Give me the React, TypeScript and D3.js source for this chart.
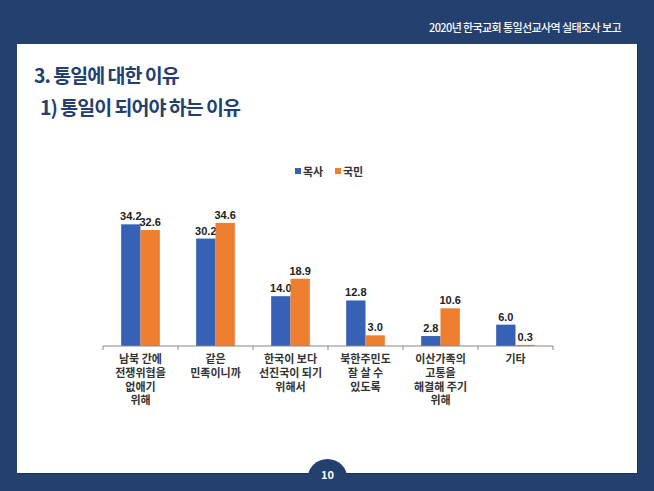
import React from "react";
import * as d3 from "d3";

const categories: string[][] = [
  ["남북 간에", "전쟁위협을", "없애기", "위해"],
  ["같은", "민족이니까"],
  ["한국이 보다", "선진국이 되기", "위해서"],
  ["북한주민도", "잘 살 수", "있도록"],
  ["이산가족의", "고통을", "해결해 주기", "위해"],
  ["기타"],
];
const seriesNames = ["목사", "국민"];
const pastorValues = [34.2, 30.2, 14.0, 12.8, 2.8, 6.0];
const publicValues = [32.6, 34.6, 18.9, 3.0, 10.6, 0.3];
const headerText = "2020년 한국교회 통일선교사역 실태조사 보고";
const titleText = "3. 통일에 대한 이유";
const subtitleText = "1) 통일이 되어야 하는 이유";
const pageNumber = "10";

const W = 654;
const H = 491;
const NAVY = "#23406f";
const BLUE = "#3761b4";
const ORANGE = "#ef7f30";
const KR = "'Noto Sans CJK KR', 'Noto Sans', sans-serif";
const NUM = "'Liberation Sans', Arial, sans-serif";

export default function App() {
  const series = [pastorValues, publicValues];
  const colors = [BLUE, ORANGE];
  const x = d3
    .scaleBand<number>()
    .domain(d3.range(categories.length))
    .range([103, 553])
    .padding(0);
  const xs = d3
    .scaleBand<number>()
    .domain([0, 1])
    .range([0, x.bandwidth()])
    .paddingInner(0)
    .paddingOuter(0.94);
  const y = d3.scaleLinear().domain([0, 40]).range([346, 203.7]);
  const baseY = y(0);

  return (
    <svg
      width={W}
      height={H}
      style={{ position: "absolute", left: 0, top: 0 }}
      xmlns="http://www.w3.org/2000/svg"
    >
      <rect x={0} y={0} width={W} height={H} fill={NAVY} />
      <rect x={18} y={45} width={620} height={429} fill="#1a3056" />
      <rect x={17} y={44} width={620} height={429} fill="#ffffff" />
      <text
        x={621}
        y={32}
        textAnchor="end"
        fill="#ffffff"
        fontFamily={KR}
        fontWeight={500}
        fontSize={11}
        letterSpacing={-0.6}
      >
        {headerText}
      </text>
      <text
        x={34}
        y={83}
        fill={NAVY}
        fontFamily={KR}
        fontWeight={700}
        fontSize={19.5}
        letterSpacing={-1}
      >
        {titleText}
      </text>
      <text
        x={40}
        y={115}
        fill={NAVY}
        fontFamily={KR}
        fontWeight={700}
        fontSize={19.5}
        letterSpacing={-1}
      >
        {subtitleText}
      </text>

      {/* legend */}
      {seriesNames.map((n, i) => (
        <g key={n} transform={`translate(${295 + i * 40},0)`}>
          <rect x={0} y={168} width={6} height={6} fill={colors[i]} />
          <text
            x={8}
            y={175.5}
            fontFamily={KR}
            fontWeight={700}
            fontSize={11}
            fill="#333"
          >
            {n}
          </text>
        </g>
      ))}

      {/* bars */}
      {categories.map((c, ci) => (
        <g key={ci} transform={`translate(${x(ci)},0)`}>
          {series.map((s, si) => {
            const v = s[ci];
            const bx = xs(si)!;
            const bw = xs.bandwidth();
            return (
              <g key={si}>
                <rect
                  x={bx}
                  y={y(v)}
                  width={bw}
                  height={baseY - y(v)}
                  fill={colors[si]}
                />
                <text
                  x={bx + bw / 2}
                  y={y(v) - 4}
                  textAnchor="middle"
                  fontFamily={NUM}
                  fontWeight={700}
                  fontSize={11}
                  fill="#222"
                >
                  {v.toFixed(1)}
                </text>
              </g>
            );
          })}
          <text
            textAnchor="middle"
            fontFamily={KR}
            fontWeight={700}
            fontSize={11}
            fill="#333"
          >
            {c.map((line, li) => (
              <tspan key={li} x={x.bandwidth() / 2} y={363 + li * 13.8}>
                {line}
              </tspan>
            ))}
          </text>
        </g>
      ))}

      {/* axis */}
      <line x1={103} x2={553} y1={baseY} y2={baseY} stroke="#888" strokeWidth={1} />
      {d3.range(categories.length + 1).map((i) => {
        const tx = i < categories.length ? x(i)! : x(categories.length - 1)! + x.bandwidth();
        return (
          <line
            key={i}
            x1={tx}
            x2={tx}
            y1={baseY}
            y2={baseY + 4}
            stroke="#888"
            strokeWidth={1}
          />
        );
      })}

      {/* page number */}
      <circle cx={327.5} cy={479} r={20} fill={NAVY} />
      <text
        x={327.5}
        y={479}
        textAnchor="middle"
        fontFamily={KR}
        fontWeight={700}
        fontSize={11}
        fill="#ffffff"
      >
        {pageNumber}
      </text>
    </svg>
  );
}
